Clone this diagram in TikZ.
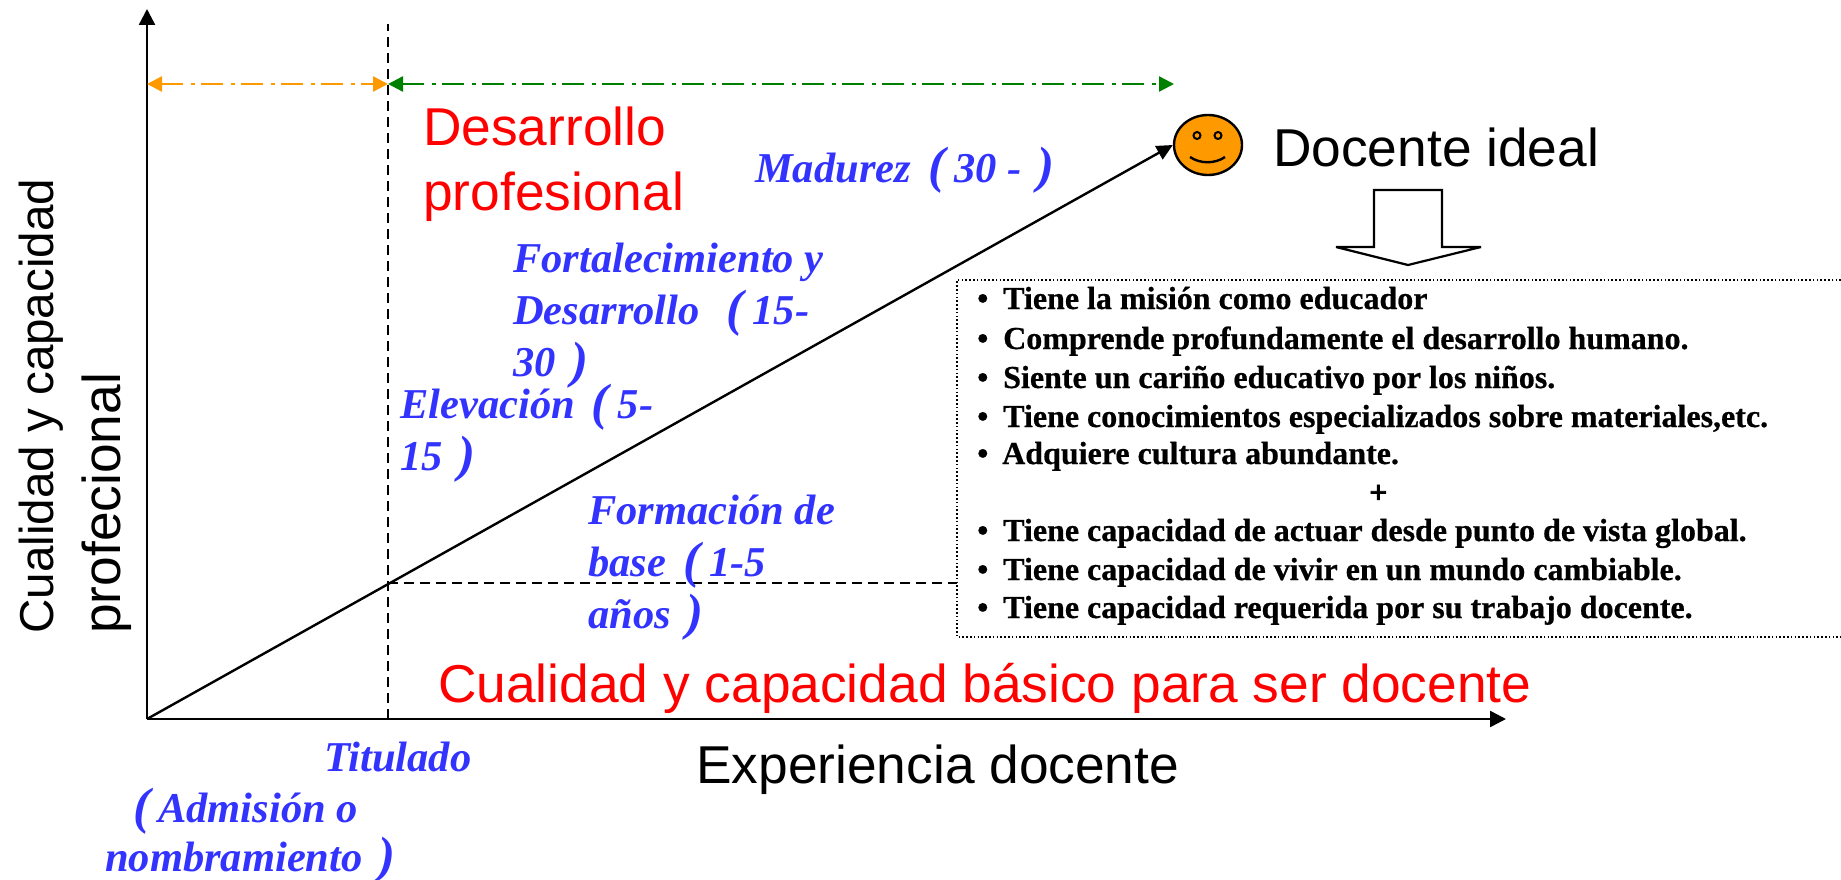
\documentclass[tikz,border=0pt]{standalone}
\usepackage{fontspec}
\usepackage{graphicx}
\setmainfont{Liberation Serif}
\setsansfont{Liberation Sans}
\newfontfamily\listfont[FakeBold=0.6]{Liberation Serif Bold}
\newfontfamily\plusfont[FakeBold=2]{Liberation Serif Bold}
\usetikzlibrary{arrows.meta,shapes.geometric}
\definecolor{bluetxt}{HTML}{3333FF}
\definecolor{orangeline}{HTML}{FF9900}
\definecolor{greenline}{HTML}{008000}
\newcommand{\bigpar}[1]{{\fontsize{51}{51}\selectfont\raisebox{-1pt}{#1}}}
\newcommand{\lp}{\hspace{17pt}\bigpar{(}\hspace{9pt}}
\newcommand{\rp}{\hspace{16pt}\bigpar{)}}
\tikzset{
  x=1pt,y=-1pt,
  axis/.style={line width=2.4pt,-{Triangle[length=16pt,width=16pt]}},
  guide/.style={line width=2pt,dash pattern=on 10pt off 6pt},
  span/.style={line width=2.4pt,dash pattern=on 22pt off 8pt on 4pt off 6pt},
  bigsans/.style={font=\sffamily\fontsize{53.3}{65}\selectfont,inner sep=0pt,anchor=base west,align=left},
  stage/.style={font=\rmfamily\bfseries\itshape\fontsize{42.5}{52}\selectfont,text=bluetxt,inner sep=0pt,anchor=base west,align=left},
  item/.style={font=\listfont\fontsize{32}{32}\selectfont,inner sep=0pt,anchor=base west},
}
\begin{document}
\begin{tikzpicture}
\useasboundingbox (0,0) rectangle (1841,880);
\coordinate (O) at (147,719);
\coordinate (Ytop) at (147,9);
\coordinate (Xend) at (1506,719);
\coordinate (Vtop) at (388,24);
\coordinate (Vbot) at (388,719);
\coordinate (Hl) at (388,583);
\coordinate (Hr) at (957,583);
\coordinate (Oa) at (147,84);
\coordinate (Ob) at (388,84);
\coordinate (Ga) at (1174,84);
% smiley
\node[ellipse,draw=black,fill=orangeline,line width=2.4pt,minimum width=68pt,minimum height=60pt,inner sep=0pt] (smiley) at (1208,145) {};
\draw[line width=2pt] (1197,135.5) circle[radius=3.5pt] (1218,135.5) circle[radius=3.5pt];
\draw[line width=2.4pt] (1190,157) .. controls (1200,164) and (1215,164) .. (1225,157);
% axes and guides
\draw[axis] (O) -- (Ytop);
\draw[axis] (O) -- (Xend);
\draw[guide] (Vbot) -- (Vtop);
\draw[guide] (Hl) -- (Hr);
\draw[line width=2.4pt,-{Triangle[length=16pt,width=15pt]}] (O) -- (smiley.west);
\draw[span,orangeline,{Triangle[length=15pt,width=15pt]}-{Triangle[length=15pt,width=15pt]}] (Oa) -- (Ob);
\draw[span,greenline,{Triangle[length=15pt,width=15pt]}-{Triangle[length=15pt,width=15pt]}] (Ob) -- (Ga);
% block arrow
\draw[line width=2.2pt,miter limit=6] (1374,190) -- (1442,190) -- (1442,247) -- (1481,247) -- (1408,265) -- (1336,247) -- (1374,247) -- cycle;
% dotted box
\draw[line width=1.6pt,dash pattern=on 1.6pt off 2.2pt] (1841,280) -- (957,280) -- (957,637) -- (1841,637);
% big labels
\node[bigsans,text=red] (dp) at (423,210) {Desarrollo\\profesional};
\node[bigsans] (ideal) at (1273,166) {Docente ideal};
\node[bigsans,text=red] (basic) at (438,702) {Cualidad y capacidad básico para ser docente};
\node[bigsans] (exp) at (696,783) {Experiencia docente};
\node[bigsans,rotate=90,font=\sffamily\fontsize{47.6}{60}\selectfont] (cual1) at (53,634) {Cualidad y capacidad};
\node[bigsans,rotate=90] (cual2) at (120,634) {profecional};
% stage labels
\node[stage] (s1) at (755,182) {Madurez\lp 30 -\rp};
\node[stage] (s2) at (513,376) {Fortalecimiento y\\Desarrollo\hspace{10pt}\lp 15-\\30\rp};
\node[stage] (s3) at (400,470) {Elevación\lp 5-\\15\rp};
\node[stage] (s4) at (588,628) {Formación de\\base\lp 1-5\\años\rp};
\node[stage] (s5) at (324,771) {Titulado};
\node[stage] (s6) at (133,822) {\bigpar{(}\hspace{8pt}Admisión o};
\node[stage] (s7) at (105,871) {nombramiento\rp};
% list
\node[item] (b1) at (977,309) {•}; \node[item] (t1) at (1003,309) {Tiene la misión como educador};
\node[item] (b2) at (977,349) {•}; \node[item] (t2) at (1003,349) {Comprende profundamente el desarrollo humano.};
\node[item] (b3) at (977,388) {•}; \node[item] (t3) at (1003,388) {Siente un cariño educativo por los niños.};
\node[item] (b4) at (977,427) {•}; \node[item] (t4) at (1003,427) {Tiene conocimientos especializados sobre materiales,etc.};
\node[item] (b5) at (977,464) {•}; \node[item] (t5) at (1002,464) {Adquiere cultura abundante.};
\node[item,font=\plusfont\fontsize{32}{32}\selectfont] (plus) at (1369,503) {+};
\node[item] (b7) at (977,541) {•}; \node[item] (t7) at (1003,541) {Tiene capacidad de actuar desde punto de vista global.};
\node[item] (b8) at (977,580) {•}; \node[item] (t8) at (1003,580) {Tiene capacidad de vivir en un mundo cambiable.};
\node[item] (b9) at (977,618) {•}; \node[item] (t9) at (1003,618) {Tiene capacidad requerida por su trabajo docente.};
\end{tikzpicture}
\end{document}
